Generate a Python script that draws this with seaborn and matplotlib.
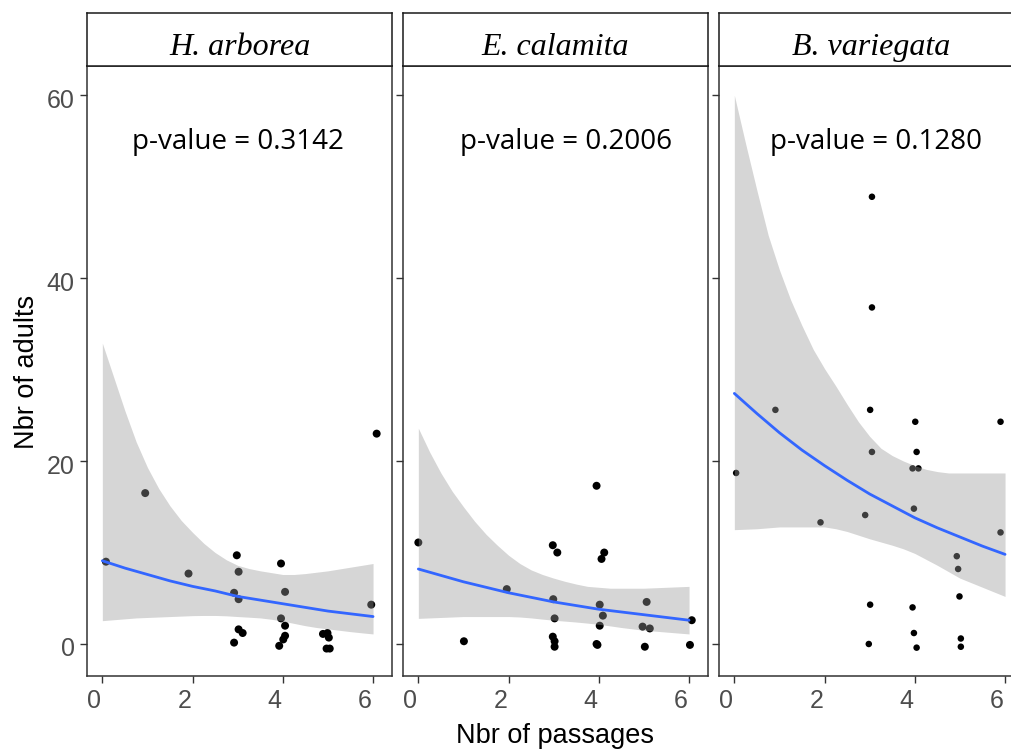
import numpy as np
import pandas as pd
import matplotlib
matplotlib.use("Agg")
import matplotlib.pyplot as plt
import matplotlib.transforms as mtrans
import seaborn as sns

# ---------------- data ----------------
species = ["H. arborea", "E. calamita", "B. variegata"]
pvalues = ["p-value = 0.3142", "p-value = 0.2006", "p-value = 0.1280"]

x_arborea = [0.08, 0.95, 1.91, 2.98, 3.02, 2.92, 3.02, 3.02, 3.11, 2.92, 3.96, 4.05,
             3.96, 4.05, 4.05, 4.01, 3.92, 4.89, 4.99, 5.02, 4.97, 5.04, 6.08, 5.96]
y_arborea = [9.0, 16.5, 7.7, 9.7, 7.9, 5.6, 4.9, 1.6, 1.2, 0.15, 8.8, 5.7,
             2.8, 2.0, 0.9, 0.5, -0.2, 1.1, 1.2, 0.7, -0.5, -0.5, 23.0, 4.3]

x_calamita = [0.0, 1.01, 1.96, 2.98, 3.08, 2.99, 3.02, 2.98, 3.02, 3.02, 3.95, 4.12,
              4.06, 4.02, 4.09, 4.02, 3.95, 3.97, 5.06, 4.97, 5.13, 5.02, 6.06, 6.02]
y_calamita = [11.1, 0.3, 6.0, 10.8, 10.0, 4.9, 2.8, 0.8, 0.3, -0.3, 17.3, 10.0,
              9.3, 4.3, 3.1, 2.0, 0.0, -0.1, 4.6, 1.9, 1.7, -0.3, 2.6, -0.1]

x_variegata = [0.04, 0.91, 1.91, 3.01, 3.05, 2.90, 3.01, 2.98, 4.01, 4.04, 3.95, 4.08, 3.98,
               3.95, 3.98, 4.04, 4.93, 4.96, 4.99, 5.02, 5.02, 5.90, 5.90, 3.05, 3.05]
y_variegata = [18.7, 25.6, 13.3, 25.6, 21.0, 14.1, 4.3, 0.0, 24.3, 21.0, 19.2, 19.2, 14.8,
               4.0, 1.2, -0.4, 9.6, 8.2, 5.2, 0.6, -0.3, 24.3, 12.2, 48.9, 36.8]

# fitted curve, read at x = 0, 0.5, ..., 6
fit_x = [0, 0.5, 1, 1.5, 2, 2.5, 3, 3.5, 4, 4.5, 5, 5.5, 6]
fit_arborea = [9.1, 8.3, 7.6, 6.9, 6.3, 5.8, 5.2, 4.8, 4.4, 4.0, 3.6, 3.3, 3.0]
fit_calamita = [8.2, 7.5, 6.8, 6.2, 5.6, 5.1, 4.6, 4.2, 3.8, 3.5, 3.2, 2.9, 2.6]
fit_variegata = [27.4, 25.2, 23.1, 21.2, 19.5, 17.9, 16.4, 15.1, 13.8, 12.7, 11.7, 10.7, 9.8]

# confidence band, read at x = 0, 0.25, ..., 6
band_x = [0, 0.25, 0.5, 0.75, 1, 1.25, 1.5, 1.75, 2, 2.25, 2.5, 2.75, 3,
          3.25, 3.5, 3.75, 4, 4.25, 4.5, 4.75, 5, 5.25, 5.5, 5.75, 6]
hi_arborea = [32.9, 29.2, 25.5, 22.1, 19.3, 17.0, 15.1, 13.5, 12.2, 11.0, 10.0, 9.2, 8.6,
              8.25, 8.0, 7.8, 7.6, 7.6, 7.7, 7.85, 8.0, 8.2, 8.4, 8.6, 8.8]
lo_arborea = [2.55, 2.65, 2.75, 2.85, 2.9, 2.95, 3.0, 3.05, 3.1, 3.12, 3.12, 3.08, 3.0,
              2.93, 2.85, 2.7, 2.5, 2.25, 2.0, 1.8, 1.65, 1.5, 1.35, 1.22, 1.1]
hi_calamita = [23.6, 21.0, 18.7, 16.7, 15.0, 13.4, 12.0, 10.8, 9.7, 8.8, 8.1, 7.6, 7.2,
               6.85, 6.55, 6.3, 6.2, 6.1, 6.1, 6.1, 6.1, 6.15, 6.2, 6.25, 6.3]
lo_calamita = [2.8, 2.85, 2.9, 2.95, 3.0, 3.0, 3.0, 3.0, 3.0, 2.95, 2.85, 2.72, 2.6,
               2.5, 2.4, 2.28, 2.15, 1.98, 1.8, 1.65, 1.5, 1.4, 1.3, 1.2, 1.1]
hi_variegata = [60.0, 54.7, 49.6, 44.7, 40.9, 37.6, 34.8, 32.2, 30.1, 28.2, 26.2, 24.3, 22.7,
                21.4, 20.6, 20.0, 19.5, 19.1, 18.85, 18.7, 18.7, 18.7, 18.7, 18.7, 18.7]
lo_variegata = [12.5, 12.55, 12.6, 12.7, 12.8, 12.8, 12.8, 12.8, 12.8, 12.6, 12.3, 11.9, 11.5,
                11.15, 10.8, 10.4, 9.9, 9.25, 8.6, 7.9, 7.2, 6.7, 6.2, 5.7, 5.2]

y_ticks = [0, 20, 40, 60]
x_ticks = [0, 2, 4, 6]

points = [(x_arborea, y_arborea), (x_calamita, y_calamita), (x_variegata, y_variegata)]
fits = [(fit_arborea, lo_arborea, hi_arborea),
        (fit_calamita, lo_calamita, hi_calamita),
        (fit_variegata, lo_variegata, hi_variegata)]
point_sizes = [33, 33, 22]

# ---------------- style ----------------
sns.set_theme(style="white")
plt.rcParams["font.family"] = ["Liberation Sans", "DejaVu Sans"]

W, H = 1011, 749
fig = plt.figure(figsize=(W / 100, H / 100), dpi=100)

panel_left = [87, 403, 719]
panel_w = 305
top_px, bottom_px = 66, 676
strip_top = 13
pval_xfrac = [0.495, 0.534, 0.515]

border_col = "#333333"
tick_col = "#4D4D4D"

xoff = mtrans.ScaledTranslation(-8 / 100, 0, fig.dpi_scale_trans)
yoff = mtrans.ScaledTranslation(0, -3 / 100, fig.dpi_scale_trans)

for i in range(3):
    l = panel_left[i] / W
    b = (H - bottom_px) / H
    w = panel_w / W
    h = (bottom_px - top_px) / H
    ax = fig.add_axes([l, b, w, h])

    px, py = points[i]
    df = pd.DataFrame({"x": px, "y": py})
    sns.scatterplot(data=df, x="x", y="y", ax=ax, color="black", s=point_sizes[i],
                    edgecolor="none", linewidth=0, zorder=2)

    f, lo, hi = fits[i]
    ax.fill_between(band_x, lo, hi, color="#999999", alpha=0.4, linewidth=0, zorder=3)
    dff = pd.DataFrame({"x": fit_x, "y": f})
    sns.lineplot(data=dff, x="x", y="y", ax=ax, color="#3366FF", linewidth=2.0, zorder=4)

    ax.set_xlim(-0.34, 6.42)
    ax.set_ylim(-3.5, 63.2)
    ax.set_xticks(x_ticks)
    ax.set_xticklabels([str(t) for t in x_ticks])
    ax.set_yticks(y_ticks)
    if i == 0:
        ax.set_yticklabels([str(t) for t in y_ticks])
    else:
        ax.set_yticklabels([])
    ax.tick_params(axis="both", which="both", length=5, width=1.0, color=border_col,
                   labelcolor=tick_col, labelsize=18, pad=4,
                   bottom=True, left=True)
    for lab in ax.get_xticklabels():
        lab.set_transform(lab.get_transform() + xoff)
    for lab in ax.get_yticklabels():
        lab.set_transform(lab.get_transform() + yoff)
    ax.set_xlabel("")
    ax.set_ylabel("")
    for sp in ax.spines.values():
        sp.set_color(border_col)
        sp.set_linewidth(1.1)
    ax.grid(False)

    ax.text(pval_xfrac[i], 0.864, pvalues[i], transform=ax.transAxes, ha="center",
            va="baseline", fontsize=20, color="black", family=["Open Sans", "DejaVu Sans"])

    # strip
    sb = (H - top_px) / H
    sh = (top_px - strip_top) / H
    sax = fig.add_axes([l, sb, w, sh])
    sax.set_xticks([])
    sax.set_yticks([])
    sax.set_facecolor("white")
    for sp in sax.spines.values():
        sp.set_color("#1a1a1a")
        sp.set_linewidth(1.1)
    sax.text(0.5, 0.21, species[i], transform=sax.transAxes, ha="center", va="baseline",
             fontsize=23, style="italic", color="black",
             family=["Liberation Serif", "DejaVu Serif"])

fig.text(555 / W, 1 - 736 / H, "Nbr of passages", ha="center", va="center",
         fontsize=19.5, color="black")
fig.text(27 / W, 1 - 372 / H, "Nbr of adults", ha="center", va="center",
         rotation=90, fontsize=19.5, color="black")

fig.savefig("out.png", dpi=100)
